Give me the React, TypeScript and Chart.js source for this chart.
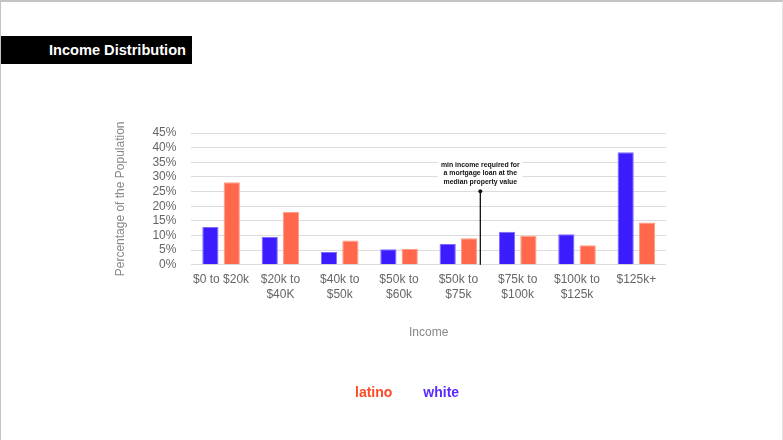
import React, { useEffect, useRef } from "react";
import { Chart, registerables } from "chart.js";

Chart.register(...registerables);

const categories: string[][] = [
  ["$0 to $20k"],
  ["$20k to", "$40K"],
  ["$40k to", "$50k"],
  ["$50k to", "$60k"],
  ["$50k to", "$75k"],
  ["$75k to", "$100k"],
  ["$100k to", "$125k"],
  ["$125k+"],
];
const whiteValues = [12.9, 9.5, 4.4, 5.3, 7.1, 11.3, 10.4, 38.4];
const latinoValues = [28.2, 18.0, 8.3, 5.4, 9.1, 9.9, 6.7, 14.4];
const yTicks = [0, 5, 10, 15, 20, 25, 30, 35, 40, 45];
const annotationCategoryPosition = 4.37;
const annotationTopValue = 25.1;
const annotationLines = ["min income required for", "a mortgage loan at the", "median property value"];

const annotationPlugin = {
  id: "mortgageAnnotation",
  afterDatasetsDraw(chart: any) {
    const { ctx, scales } = chart;
    const xs = scales.x;
    const ys = scales.y;
    const base = Math.floor(annotationCategoryPosition);
    const frac = annotationCategoryPosition - base;
    const x0 = xs.getPixelForValue(base);
    const x1 = xs.getPixelForValue(base + 1);
    const x = x0 + (x1 - x0) * frac;
    const yTop = ys.getPixelForValue(annotationTopValue);
    const yBottom = ys.getPixelForValue(0);
    ctx.save();
    ctx.strokeStyle = "#111";
    ctx.lineWidth = 1.3;
    ctx.beginPath();
    ctx.moveTo(x, yTop);
    ctx.lineTo(x, yBottom);
    ctx.stroke();
    ctx.fillStyle = "#111";
    ctx.beginPath();
    ctx.arc(x, yTop, 2, 0, Math.PI * 2);
    ctx.fill();
    ctx.font = "bold 6.9px 'Liberation Sans', Arial, sans-serif";
    ctx.textAlign = "center";
    ctx.textBaseline = "middle";
    const lh = 8.8;
    const firstY = yTop - 26.5;
    let maxW = 0;
    annotationLines.forEach((l) => (maxW = Math.max(maxW, ctx.measureText(l).width)));
    ctx.fillStyle = "#ffffff";
    ctx.fillRect(x - maxW / 2 - 3, firstY - 6, maxW + 6, lh * annotationLines.length + 4);
    ctx.fillStyle = "#111";
    annotationLines.forEach((l, i) => ctx.fillText(l, x, firstY + i * lh));
    ctx.restore();
  },
};

export default function App() {
  const ref = useRef<HTMLCanvasElement | null>(null);
  useEffect(() => {
    if (!ref.current) return;
    const font = "'Liberation Sans', Arial, Helvetica, sans-serif";
    const chart = new Chart(ref.current, {
      type: "bar",
      data: {
        labels: categories,
        datasets: [
          {
            label: "white",
            data: whiteValues,
            backgroundColor: "#3b1cff",
            borderColor: "#7d6bff",
            borderWidth: 1,
            categoryPercentage: 0.72,
            barPercentage: 0.76,
          },
          {
            label: "latino",
            data: latinoValues,
            backgroundColor: "#ff684a",
            borderColor: "#ff9c86",
            borderWidth: 1,
            categoryPercentage: 0.72,
            barPercentage: 0.76,
          },
        ],
      },
      options: {
        animation: false,
        responsive: false,
        maintainAspectRatio: false,
        layout: { padding: { left: 113, right: 117, top: 133, bottom: 100 } },
        plugins: { legend: { display: false }, tooltip: { enabled: false } },
        scales: {
          x: {
            grid: { display: false, drawTicks: false },
            border: { display: false },
            ticks: { color: "#666", font: { family: font, size: 12 }, padding: 8, maxRotation: 0, autoSkip: false },
            title: {
              display: true,
              text: "Income",
              color: "#888",
              font: { family: font, size: 12 },
              padding: { top: 16, bottom: 0 },
            },
          },
          y: {
            min: 0,
            max: 45,
            afterBuildTicks: (axis: any) => {
              axis.ticks = yTicks.map((v) => ({ value: v }));
            },
            grid: { color: "#dcdcdc", lineWidth: 1, drawTicks: false },
            border: { display: false },
            ticks: {
              color: "#666",
              font: { family: font, size: 12 },
              padding: 15,
              autoSkip: false,
              callback: (v: any) => v + "%",
            },
            title: {
              display: true,
              text: "Percentage of the Population",
              color: "#888",
              font: { family: font, size: 12 },
              padding: { top: 0, bottom: 10 },
            },
          },
        },
      },
      plugins: [annotationPlugin],
    });
    return () => chart.destroy();
  }, []);

  return (
    <div
      style={{
        position: "fixed",
        left: 0,
        top: 0,
        width: 783,
        height: 440,
        background: "#fff",
        boxSizing: "border-box",
        borderTop: "2px solid #c4c4c4",
        borderLeft: "1px solid #c4c4c4",
        borderRight: "1px solid #e4e4e4",
        overflow: "hidden",
        fontFamily: "'Liberation Sans', Arial, sans-serif",
      }}
    >
      <canvas ref={ref} width={783} height={440} style={{ position: "absolute", left: -1, top: -2 }} />
      <div
        style={{
          position: "absolute",
          left: -1,
          top: 34,
          width: 192,
          height: 28,
          background: "#000",
          color: "#fff",
          fontWeight: "bold",
          fontSize: 14.6,
          lineHeight: "28px",
          textAlign: "right",
          paddingRight: 6,
          boxSizing: "border-box",
        }}
      >
        Income Distribution
      </div>
      <div
        style={{
          position: "absolute",
          top: 380,
          left: 354,
          fontWeight: "bold",
          fontSize: 14,
          lineHeight: "20px",
          display: "flex",
          gap: 31,
        }}
      >
        <span style={{ color: "#ff4a26" }}>latino</span>
        <span style={{ color: "#5a2bff" }}>white</span>
      </div>
    </div>
  );
}
